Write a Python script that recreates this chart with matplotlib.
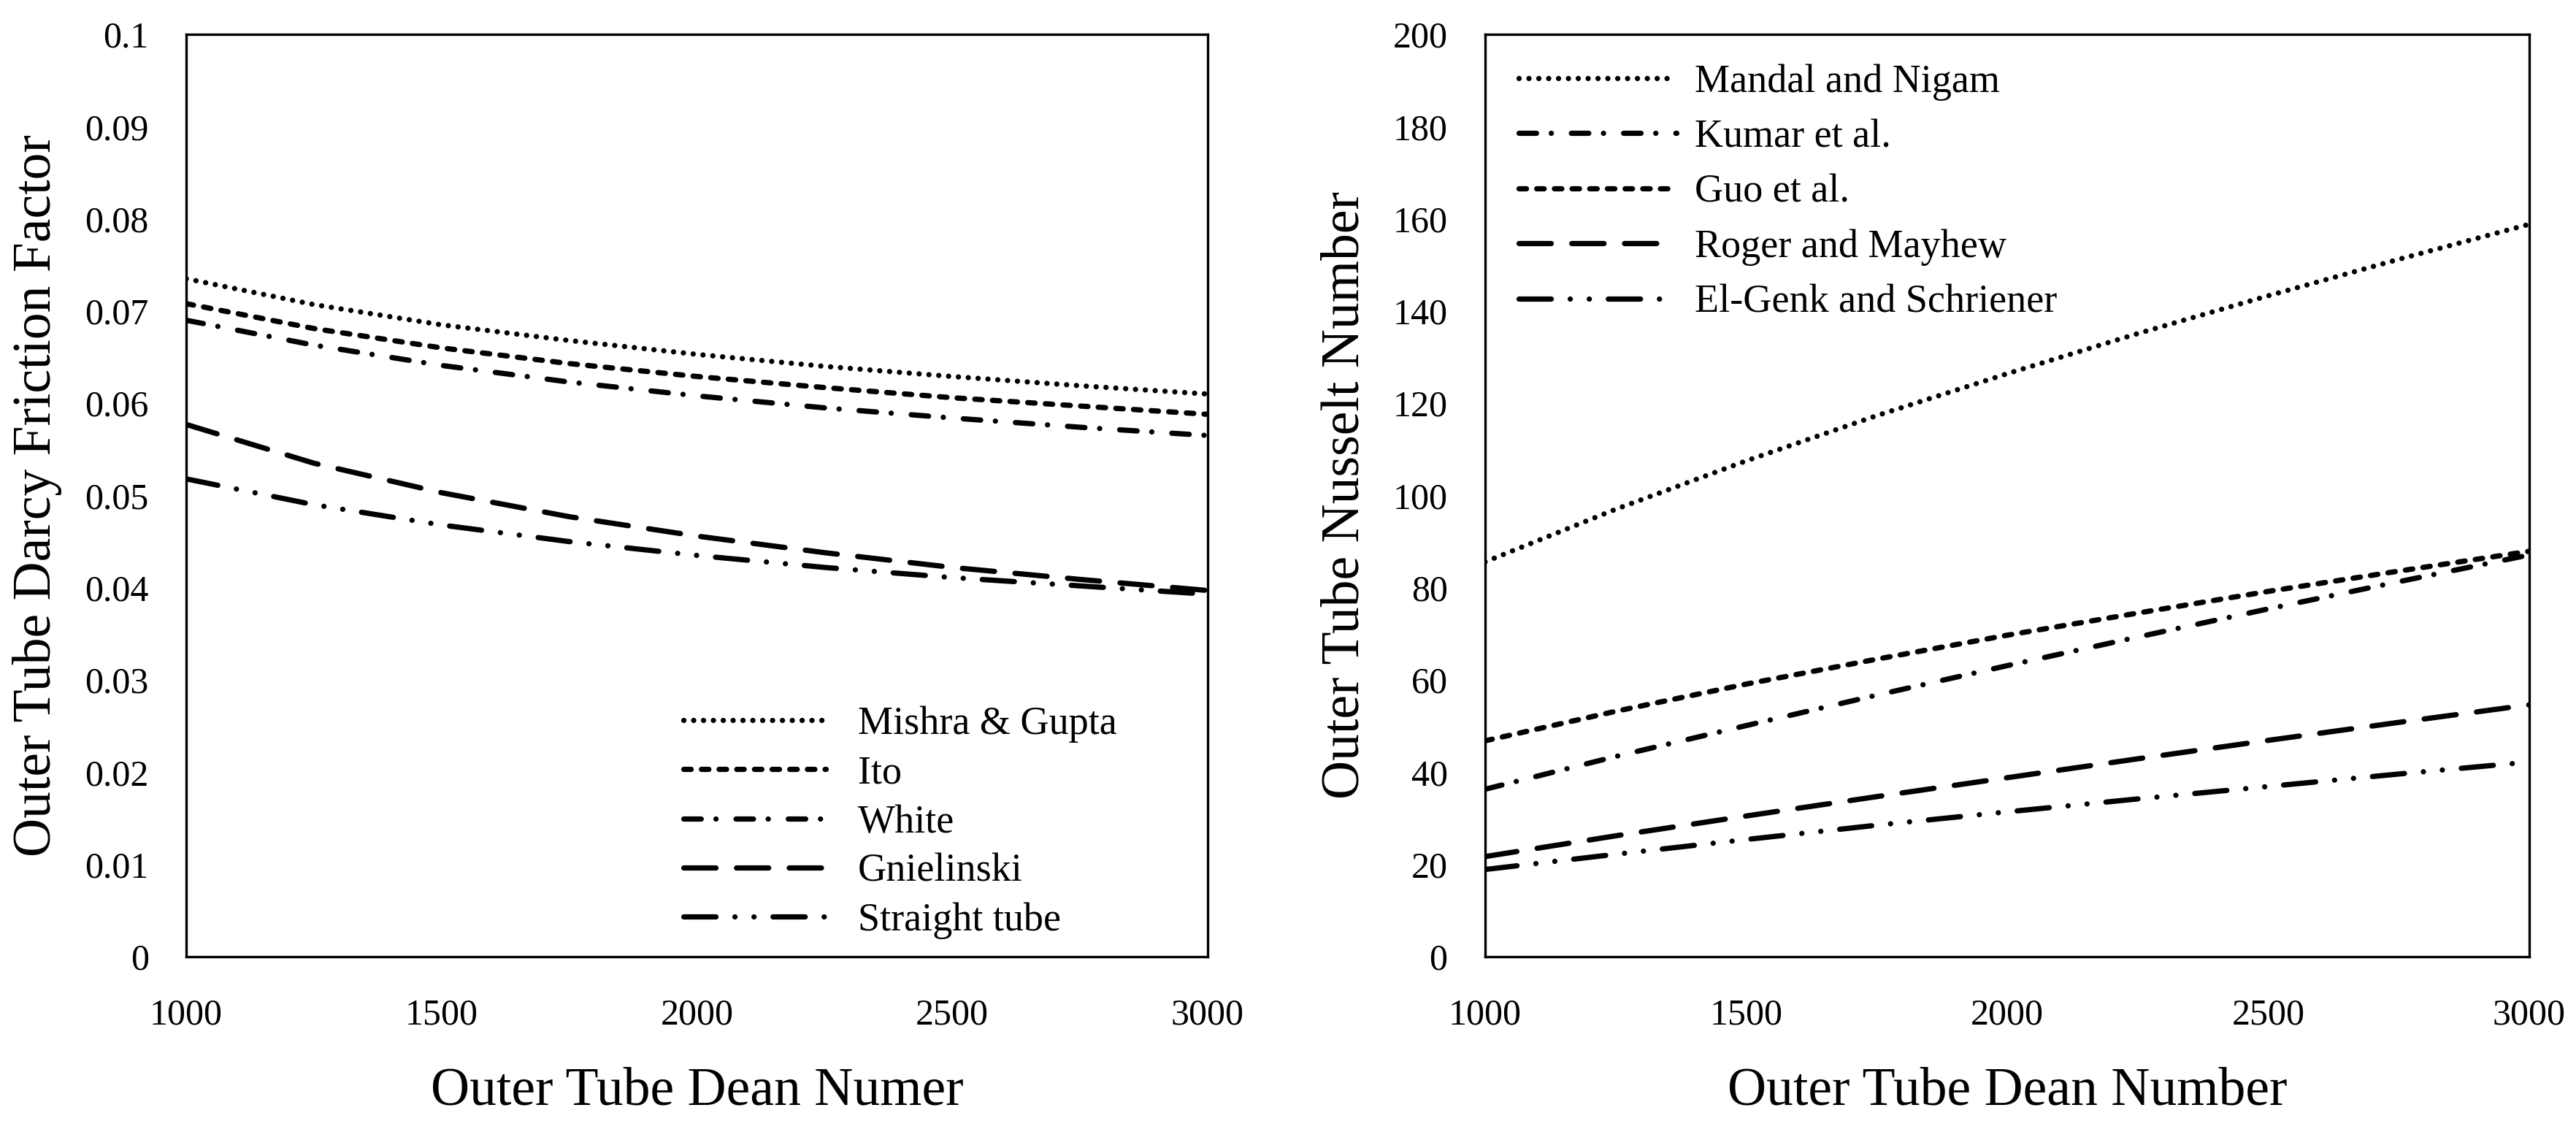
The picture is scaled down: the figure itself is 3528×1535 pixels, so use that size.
import numpy as np
import matplotlib
matplotlib.use("Agg")
import matplotlib.pyplot as plt

plt.rcParams['font.family'] = ['Liberation Serif', 'DejaVu Serif']

# Dean number (both panels)
dean = [1000, 1250, 1500, 1750, 2000, 2250, 2500, 2750, 3000]

# left panel: Darcy friction factor
f_mishra = [0.0735, 0.0707, 0.0685, 0.0668, 0.0653, 0.0640, 0.0629, 0.0619, 0.0610]
f_ito = [0.0708, 0.0681, 0.0660, 0.0643, 0.0629, 0.0617, 0.0606, 0.0597, 0.0588]
f_white = [0.0690, 0.0663, 0.0641, 0.0623, 0.0608, 0.0595, 0.0584, 0.0574, 0.0565]
f_gniel = [0.0577, 0.0535, 0.0503, 0.0477, 0.0456, 0.0438, 0.0422, 0.0409, 0.0397]
f_straight = [0.0518, 0.0490, 0.0468, 0.0450, 0.0435, 0.0422, 0.0411, 0.0402, 0.0393]
f_labels = ['Mishra & Gupta', 'Ito', 'White', 'Gnielinski', 'Straight tube']

# right panel: Nusselt number
nu_mandal = [85.6, 97.0, 107.5, 117.3, 126.4, 135.1, 143.3, 151.2, 158.8]
nu_kumar = [36.3, 43.4, 50.1, 56.7, 63.1, 69.3, 75.4, 81.3, 87.1]
nu_guo = [46.8, 53.2, 59.1, 64.5, 69.7, 74.5, 79.2, 83.6, 87.9]
nu_roger = [21.7, 26.2, 30.5, 34.7, 38.8, 42.9, 46.9, 50.8, 54.6]
nu_elgenk = [18.9, 22.2, 25.4, 28.5, 31.4, 34.2, 36.9, 39.6, 42.2]
nu_labels = ['Mandal and Nigam', 'Kumar et al.', 'Guo et al.',
             'Roger and Mayhew', 'El-Genk and Schriener']

# line styles (dash units are multiples of linewidth, round caps)
DOT = (0, (0.01, 1.86))
SHORT = (0, (1.4, 1.95))
DASHDOT = (0, (3.3, 2.8, 0.01, 3.8))
LONG = (0, (6.1, 3.9))
DASHDOTDOT = (0, (6.1, 3.6, 0.01, 3.6, 0.01, 3.6))

LW = 5.2
TICK_FS = 36
LEG_FS = 39
LAB_FS = 53


def style_axes(ax):
    for s in ax.spines.values():
        s.set_linewidth(2.4)
    ax.tick_params(axis='both', length=0, labelsize=TICK_FS)
    ax.tick_params(axis='y', pad=37)
    ax.tick_params(axis='x', pad=41)
    ax.set_xlim(1000, 3000)
    ax.set_xticks([1000, 1500, 2000, 2500, 3000])


def draw(ax, x, y, ls, lab):
    ax.plot(x, y, color='black', lw=LW, linestyle=ls, label=lab,
            dash_capstyle='round', solid_capstyle='round')


fig = plt.figure(figsize=(35.28, 15.35), dpi=100)
ax1 = fig.add_axes([0.0723, 0.1466, 0.3965, 0.8228])
ax2 = fig.add_axes([0.5765, 0.1466, 0.4053, 0.8228])

# ---- left: friction factor
for y, ls, lab in zip([f_mishra, f_ito, f_white, f_gniel, f_straight],
                      [DOT, SHORT, DASHDOT, LONG, DASHDOTDOT], f_labels):
    draw(ax1, dean, y, ls, lab)
style_axes(ax1)
ax1.set_ylim(0, 0.1)
ax1.set_yticks(np.arange(0, 0.1001, 0.01))
ax1.set_yticklabels(['0', '0.01', '0.02', '0.03', '0.04', '0.05', '0.06',
                     '0.07', '0.08', '0.09', '0.1'])
ax1.set_xlabel('Outer Tube Dean Numer', fontsize=LAB_FS, va='center')
ax1.set_ylabel('Outer Tube Darcy Friction Factor', fontsize=LAB_FS, va='center')
ax1.xaxis.set_label_coords(0.5, -0.146)
ax1.yaxis.set_label_coords(-0.146, 0.5)
ax1.legend(loc='upper left', bbox_to_anchor=(0.487, 0.272), frameon=False,
           fontsize=LEG_FS, borderpad=0, borderaxespad=0, handlelength=3.6,
           handletextpad=0.8, labelspacing=0.31)

# ---- right: Nusselt number
for y, ls, lab in zip([nu_mandal, nu_kumar, nu_guo, nu_roger, nu_elgenk],
                      [DOT, DASHDOT, SHORT, LONG, DASHDOTDOT], nu_labels):
    draw(ax2, dean, y, ls, lab)
style_axes(ax2)
ax2.set_ylim(0, 200)
ax2.set_yticks(np.arange(0, 201, 20))
ax2.set_xlabel('Outer Tube Dean Number', fontsize=LAB_FS, va='center')
ax2.set_ylabel('Outer Tube Nusselt Number', fontsize=LAB_FS, va='center')
ax2.xaxis.set_label_coords(0.5, -0.146)
ax2.yaxis.set_label_coords(-0.1336, 0.5)
ax2.legend(loc='upper left', bbox_to_anchor=(0.032, 0.968), frameon=False,
           fontsize=LEG_FS, borderpad=0, borderaxespad=0, handlelength=4.0,
           handletextpad=0.45, labelspacing=0.46)

fig.savefig('out.png', dpi=100)
